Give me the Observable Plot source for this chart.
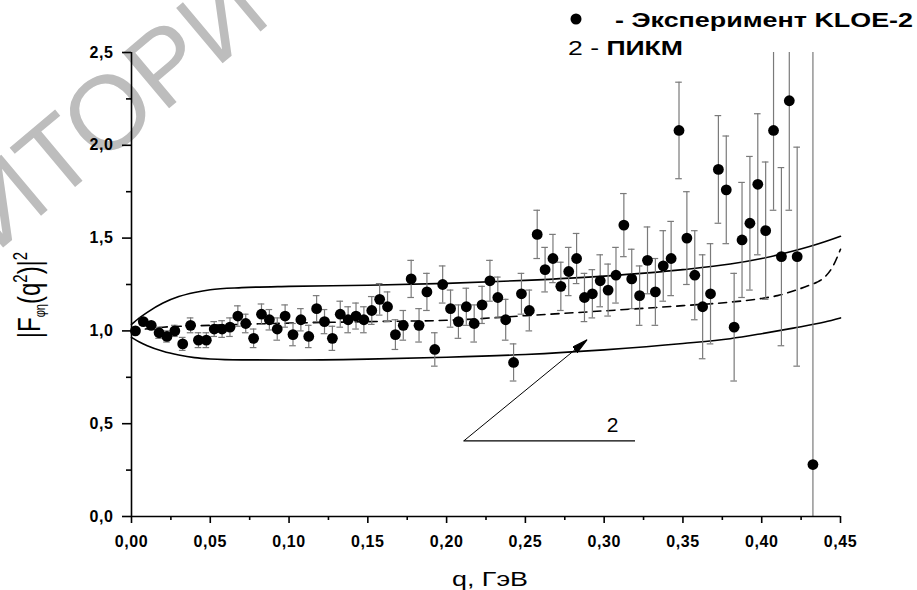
<!DOCTYPE html>
<html><head><meta charset="utf-8">
<script src="https://cdn.jsdelivr.net/npm/d3@7"></script>
<script src="https://cdn.jsdelivr.net/npm/@observablehq/plot@0.6"></script>
<style>
body{margin:0;background:#fff;}
#chart svg{display:block;}
g[aria-label$="tick label"]{font-weight:bold;letter-spacing:0.6px;}
</style>
</head><body><div id="chart"></div>
<script>
// KLOE-2 experimental points
const q = [0.0025,0.0075,0.0125,0.0175,0.0225,0.0275,0.0325,0.0375,0.0425,0.0475,
  0.0525,0.0575,0.0625,0.0675,0.0725,0.0775,0.0825,0.0875,0.0925,0.0975,
  0.1025,0.1075,0.1125,0.1175,0.1225,0.1275,0.1325,0.1375,0.1425,0.1475,
  0.1525,0.1575,0.1625,0.1675,0.1725,0.1775,0.1825,0.1875,0.1925,0.1975,
  0.2025,0.2075,0.2125,0.2175,0.2225,0.2275,0.2325,0.2375,0.2425,0.2475,
  0.2525,0.2575,0.2625,0.2675,0.2725,0.2775,0.2825,0.2875,0.2925,0.2975,
  0.3025,0.3075,0.3125,0.3175,0.3225,0.3275,0.3325,0.3375,0.3425,0.3475,
  0.3525,0.3575,0.3625,0.3675,0.3725,0.3775,0.3825,0.3875,0.3925,0.3975,
  0.4025,0.4075,0.4125,0.4175,0.4225,0.4325];
const F = [1.00,1.05,1.03,0.99,0.97,1.00,0.93,1.03,0.95,0.95,
  1.01,1.01,1.02,1.08,1.04,0.96,1.09,1.06,1.01,1.08,
  0.98,1.06,0.97,1.12,1.05,0.96,1.09,1.06,1.08,1.06,
  1.11,1.17,1.13,0.98,1.03,1.28,1.03,1.21,0.90,1.25,
  1.12,1.05,1.13,1.04,1.14,1.27,1.18,1.06,0.83,1.20,
  1.11,1.52,1.33,1.39,1.24,1.32,1.39,1.18,1.20,1.27,
  1.22,1.30,1.57,1.28,1.19,1.38,1.21,1.35,1.39,2.08,
  1.50,1.30,1.13,1.20,1.87,1.76,1.02,1.49,1.58,1.79,
  1.54,2.08,1.40,2.24,1.40,0.28];
const err = [0.02,0.02,0.02,0.03,0.03,0.03,0.035,0.04,0.04,0.04,
  0.04,0.045,0.05,0.055,0.05,0.05,0.055,0.055,0.06,0.06,
  0.06,0.06,0.06,0.07,0.065,0.065,0.07,0.07,0.07,0.07,
  0.075,0.085,0.08,0.08,0.08,0.10,0.09,0.10,0.09,0.10,
  0.10,0.09,0.10,0.10,0.10,0.11,0.11,0.11,0.10,0.11,
  0.11,0.13,0.12,0.13,0.13,0.13,0.135,0.13,0.13,0.14,
  0.14,0.15,0.17,0.16,0.16,0.18,0.18,0.19,0.20,0.26,
  0.25,0.24,0.28,0.27,0.29,0.29,0.29,0.31,0.36,0.38,
  0.37,0.43,0.48,0.59,0.59,2.6];

// Model curves (ПИКМ): band and central dashed curve
const bandQ = [0,0.005,0.01,0.02,0.03,0.04,0.05,0.07,0.1,0.15,0.2,0.25,0.3,0.35,0.38,0.4,0.42,0.44,0.45];
const upper = [1.035,1.07,1.10,1.15,1.185,1.207,1.222,1.233,1.24,1.246,1.256,1.272,1.295,1.33,1.36,1.39,1.43,1.48,1.51];
const lower = [0.965,0.94,0.92,0.89,0.87,0.856,0.849,0.844,0.843,0.848,0.858,0.873,0.898,0.932,0.958,0.985,1.015,1.048,1.07];
const midQ = [0,0.02,0.05,0.1,0.15,0.2,0.25,0.3,0.35,0.38,0.4,0.41,0.42,0.43,0.435,0.44,0.445,0.45];
const mid = [1.0,1.02,1.03,1.042,1.05,1.057,1.082,1.108,1.136,1.155,1.175,1.19,1.215,1.245,1.262,1.29,1.345,1.44];

// Axis ticks
const xTicks = [0,0.05,0.10,0.15,0.20,0.25,0.30,0.35,0.40,0.45];
const xMinor = [0.025,0.075,0.125,0.175,0.225,0.275,0.325,0.375,0.425];
const yTicks = [0,0.5,1.0,1.5,2.0,2.5];
const yMinor = [0.25,0.75,1.25,1.75,2.25];

// Annotation "2" with arrow (data units)
const arrowLine = [{x1:0.211, y1:0.408, x2:0.2892, y2:0.952}];
const baseLine = [{x1:0.211, x2:0.3199, y:0.408}];
const label2 = [{x:0.3053, y:0.49, text:"2"}];

const points = q.map((d,i)=>({q:d, F:F[i], e:err[i]}));
const band = bandQ.map((d,i)=>({q:d, up:upper[i], lo:lower[i]}));
const middle = midQ.map((d,i)=>({q:d, v:mid[i]}));

function filledArrow(color){
  const ns="http://www.w3.org/2000/svg";
  const m=document.createElementNS(ns,"marker");
  m.setAttribute("viewBox","-16 -4 16 8");
  m.setAttribute("markerWidth","16");
  m.setAttribute("markerHeight","8");
  m.setAttribute("markerUnits","userSpaceOnUse");
  m.setAttribute("refX","0");m.setAttribute("refY","0");
  m.setAttribute("orient","auto");
  const p=document.createElementNS(ns,"path");
  p.setAttribute("d","M-16,-3.8L0,0L-16,3.8Z");
  p.setAttribute("fill",color);
  m.appendChild(p);
  return m;
}

const fx = d => d.toFixed(2).replace(".",",");
const fy = d => d.toFixed(1).replace(".",",");
const ebColor = "#7a7a7a";

const chart = Plot.plot({
  width:917, height:590,
  marginLeft:131, marginRight:77, marginTop:52, marginBottom:74,
  style:{fontFamily:"'Liberation Sans', Arial, sans-serif", fontSize:"16px", background:"transparent", color:"black"},
  x:{domain:[0,0.45]},
  y:{domain:[0,2.5]},
  marks:[
    Plot.line(band,{x:"q", y:"up", stroke:"black", strokeWidth:1.6, curve:"monotone-x"}),
    Plot.line(band,{x:"q", y:"lo", stroke:"black", strokeWidth:1.6, curve:"monotone-x"}),
    Plot.line(middle,{x:"q", y:"v", stroke:"black", strokeWidth:1.6, strokeDasharray:"8,6", curve:"monotone-x"}),
    Plot.ruleX(points,{x:"q", y1:d=>d.F-d.e, y2:d=>d.F+d.e, stroke:ebColor, strokeWidth:1.2, clip:true}),
    Plot.ruleY(points,{y:d=>d.F+d.e, x1:d=>d.q-0.0021, x2:d=>d.q+0.0021, stroke:ebColor, strokeWidth:1.2, clip:true}),
    Plot.ruleY(points,{y:d=>d.F-d.e, x1:d=>d.q-0.0021, x2:d=>d.q+0.0021, stroke:ebColor, strokeWidth:1.2, clip:true}),
    Plot.dot(points,{x:"q", y:"F", r:5.4, fill:"black"}),
    Plot.link(arrowLine,{x1:"x1", y1:"y1", x2:"x2", y2:"y2", stroke:"black", strokeWidth:1, markerEnd:filledArrow}),
    Plot.ruleY(baseLine,{y:"y", x1:"x1", x2:"x2", stroke:"black", strokeWidth:1.2}),
    Plot.text(label2,{x:"x", y:"y", text:"text", fontSize:21, fill:"black"}),
    Plot.ruleX([0],{stroke:"black", strokeWidth:1.6}),
    Plot.ruleY([0],{stroke:"black", strokeWidth:1.6}),
    Plot.axisX(xTicks,{tickSize:7, tickPadding:12, tickFormat:fx, strokeWidth:1.6, label:null}),
    Plot.axisX(xMinor,{tickSize:4, tickFormat:()=>"", strokeWidth:1.6, label:null}),
    Plot.axisY(yTicks,{tickSize:9, tickPadding:9, tickFormat:fy, strokeWidth:1.6, label:null}),
    Plot.axisY(yMinor,{tickSize:5, tickFormat:()=>"", strokeWidth:1.6, label:null})
  ]
});

document.getElementById("chart").appendChild(chart);
const svg = d3.select(chart);
const FONT = "'Liberation Sans', Arial, sans-serif";

// watermark (repository stamp, partly outside the picture as in the original)
svg.insert("text", ":first-child")
  .attr("transform","translate(-3.5,253) rotate(-40)")
  .attr("text-anchor","start")
  .attr("font-family",FONT).attr("font-size",105)
  .attr("fill","#bdbdbd")
  .text("ИТОРИ");

// legend
svg.append("circle").attr("cx",576).attr("cy",19).attr("r",5.5).attr("fill","black");
svg.append("text").attr("x",615).attr("y",26.5).attr("text-anchor","start")
  .attr("font-family",FONT).attr("font-size",21).attr("font-weight","bold")
  .attr("textLength",298).attr("lengthAdjust","spacingAndGlyphs")
  .text("- Эксперимент KLOE-2");
const t2 = svg.append("text").attr("x",568).attr("y",55).attr("text-anchor","start")
  .attr("font-family",FONT).attr("font-size",21)
  .attr("textLength",115).attr("lengthAdjust","spacingAndGlyphs");
t2.append("tspan").text("2 - ");
t2.append("tspan").attr("font-weight","bold").text("ПИКМ");

// x label
svg.append("text").attr("x",452).attr("y",586).attr("text-anchor","start")
  .attr("font-family",FONT).attr("font-size",21)
  .attr("textLength",76).attr("lengthAdjust","spacingAndGlyphs")
  .text("q, ГэВ");

// y label
const yl = svg.append("text")
  .attr("transform","translate(40,295) scale(1.3,1) rotate(-90)")
  .attr("text-anchor","middle")
  .attr("font-family",FONT).attr("font-size",24);
yl.append("tspan").text("|F");
yl.append("tspan").attr("font-size",11).attr("dy",4).text("φη");
yl.append("tspan").attr("dy",-4).text("(q");
yl.append("tspan").attr("font-size",15).attr("dy",-10).text("2");
yl.append("tspan").attr("dy",10).text(")|");
yl.append("tspan").attr("font-size",15).attr("dy",-10).text("2");
</script>
</body></html>
